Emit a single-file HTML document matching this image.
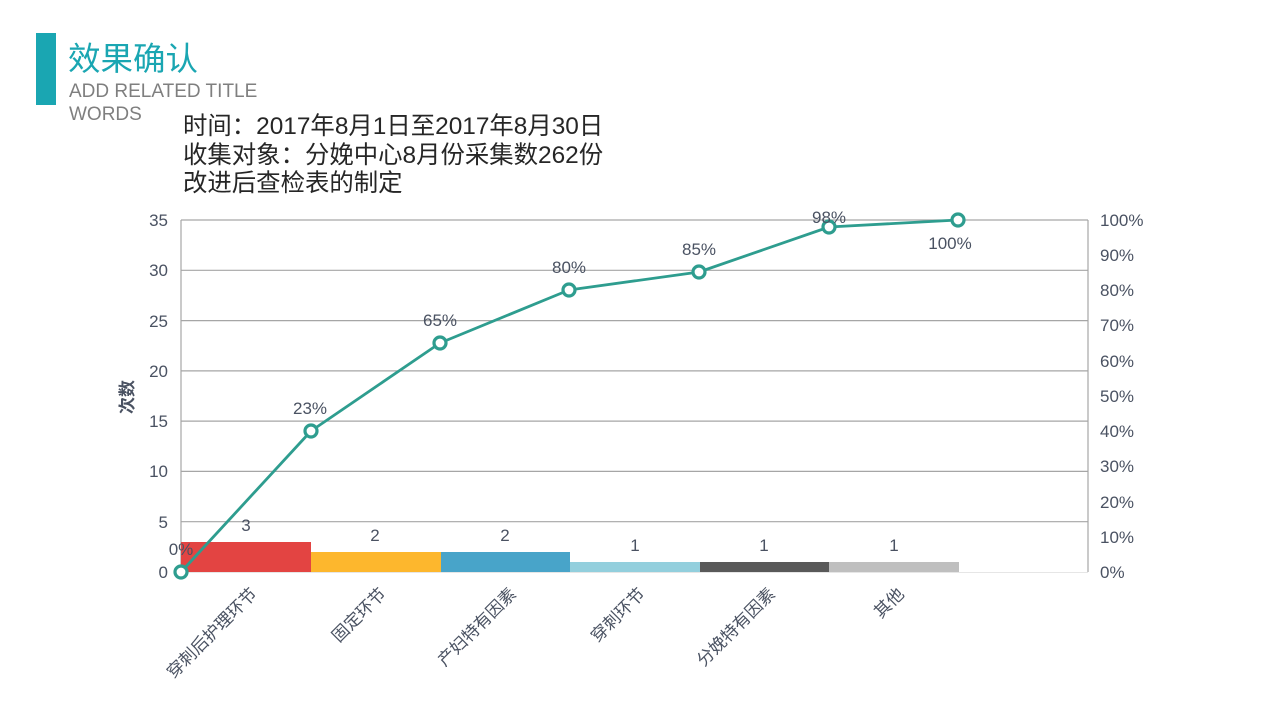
<!DOCTYPE html>
<html><head><meta charset="utf-8"><style>
html,body{margin:0;padding:0;background:#fff;}
svg{display:block;}
text{font-family:"Liberation Sans","Noto Sans CJK SC",sans-serif;}
</style></head><body>
<svg width="1280" height="720" viewBox="0 0 1280 720" xmlns="http://www.w3.org/2000/svg">
<rect x="0" y="0" width="1280" height="720" fill="#fff"/>
<!-- header -->
<rect x="36" y="33" width="20" height="72" fill="#1aa6b2"/>
<text x="68" y="70" font-size="32.5" fill="#1aa6b2">效果确认</text>
<text x="69" y="97" font-size="19" fill="#7f7f7f">ADD RELATED TITLE</text>
<text x="69" y="120" font-size="19" fill="#7f7f7f">WORDS</text>
<g font-size="24.4" fill="#262626">
<text x="183" y="134">时间：2017年8月1日至2017年8月30日</text>
<text x="183" y="163">收集对象：分娩中心8月份采集数262份</text>
<text x="183" y="191">改进后查检表的制定</text>
</g>
<!-- gridlines -->
<g stroke="#a6a6a6" stroke-width="1.2">
<line x1="181" y1="220" x2="1088" y2="220"/>
<line x1="181" y1="270.3" x2="1088" y2="270.3"/>
<line x1="181" y1="320.6" x2="1088" y2="320.6"/>
<line x1="181" y1="370.9" x2="1088" y2="370.9"/>
<line x1="181" y1="421.1" x2="1088" y2="421.1"/>
<line x1="181" y1="471.4" x2="1088" y2="471.4"/>
<line x1="181" y1="521.7" x2="1088" y2="521.7"/>
<line x1="181" y1="220" x2="181" y2="572"/>
<line x1="1088" y1="220" x2="1088" y2="572"/>
</g>
<line x1="181" y1="572.5" x2="1088" y2="572.5" stroke="#e6e6e6" stroke-width="1"/>
<!-- bars -->
<rect x="181" y="542" width="130" height="30" fill="#e34442"/>
<rect x="311" y="552" width="130" height="20" fill="#fdb72d"/>
<rect x="441" y="552" width="129" height="20" fill="#48a4c9"/>
<rect x="570" y="562" width="130" height="10" fill="#93cfdd"/>
<rect x="700" y="562" width="129" height="10" fill="#595959"/>
<rect x="829" y="562" width="130" height="10" fill="#bfbfbf"/>
<!-- bar labels -->
<g font-size="17" fill="#4a5262" text-anchor="middle">
<text x="246" y="531">3</text>
<text x="375" y="541">2</text>
<text x="505" y="541">2</text>
<text x="635" y="551">1</text>
<text x="764" y="551">1</text>
<text x="894" y="551">1</text>
</g>
<!-- left ticks -->
<g font-size="17" fill="#4a5262" text-anchor="end">
<text x="168" y="226">35</text>
<text x="168" y="276">30</text>
<text x="168" y="327">25</text>
<text x="168" y="377">20</text>
<text x="168" y="427">15</text>
<text x="168" y="477">10</text>
<text x="168" y="528">5</text>
<text x="168" y="578">0</text>
</g>
<!-- right ticks -->
<g font-size="17" fill="#4a5262" text-anchor="start">
<text x="1100" y="226">100%</text>
<text x="1100" y="261">90%</text>
<text x="1100" y="296">80%</text>
<text x="1100" y="331">70%</text>
<text x="1100" y="367">60%</text>
<text x="1100" y="402">50%</text>
<text x="1100" y="437">40%</text>
<text x="1100" y="472">30%</text>
<text x="1100" y="508">20%</text>
<text x="1100" y="543">10%</text>
<text x="1100" y="578">0%</text>
</g>
<!-- y axis title -->
<text transform="translate(133,397) rotate(-90)" font-size="17" font-weight="bold" fill="#4a5262" text-anchor="middle">次数</text>
<!-- category labels -->
<g font-size="17" fill="#4a5262" text-anchor="end">
<text transform="translate(258,595) rotate(-45)">穿刺后护理环节</text>
<text transform="translate(387,595) rotate(-45)">固定环节</text>
<text transform="translate(517,595) rotate(-45)">产妇特有因素</text>
<text transform="translate(646,595) rotate(-45)">穿刺环节</text>
<text transform="translate(776,595) rotate(-45)">分娩特有因素</text>
<text transform="translate(905,595) rotate(-45)">其他</text>
</g>
<!-- line -->
<polyline points="181,572 311,431 440,343 569,290 699,272 829,227 958,220" fill="none" stroke="#2e9d8f" stroke-width="2.8" stroke-linejoin="round"/>
<g fill="#fff" stroke="#2e9d8f" stroke-width="3.2">
<circle cx="181" cy="572" r="6"/>
<circle cx="311" cy="431" r="6"/>
<circle cx="440" cy="343" r="6"/>
<circle cx="569" cy="290" r="6"/>
<circle cx="699" cy="272" r="6"/>
<circle cx="829" cy="227" r="6"/>
<circle cx="958" cy="220" r="6"/>
</g>
<!-- percent labels -->
<g font-size="17" fill="#4a5262" text-anchor="middle">
<text x="181" y="555">0%</text>
<text x="310" y="414">23%</text>
<text x="440" y="326">65%</text>
<text x="569" y="273">80%</text>
<text x="699" y="255">85%</text>
<text x="829" y="223">98%</text>
<text x="950" y="249">100%</text>
</g>
</svg>
</body></html>
